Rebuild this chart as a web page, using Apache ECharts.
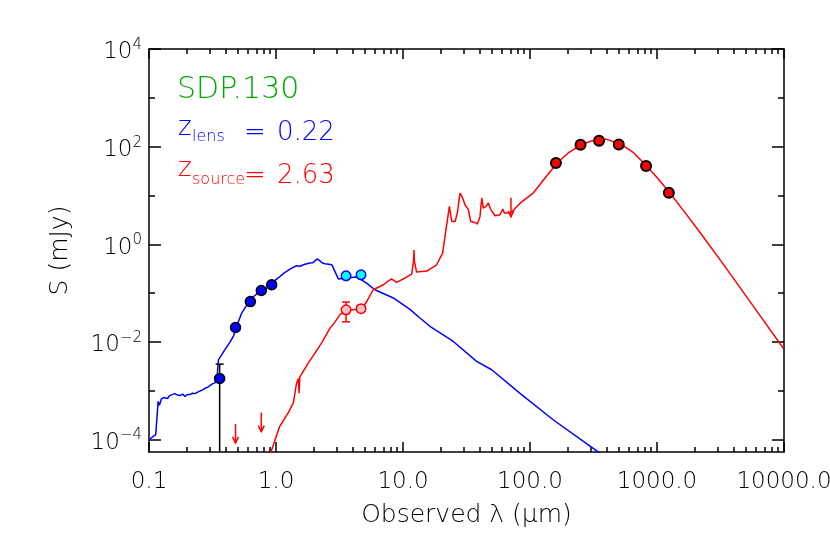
<!DOCTYPE html>
<html><head><meta charset="utf-8">
<script src="https://cdn.jsdelivr.net/npm/echarts@6/dist/echarts.min.js"></script>
<style>html,body{margin:0;padding:0;background:#fff}#c{width:830px;height:553px}</style>
</head><body><div id="c"></div>
<script>
const FONT = 'DejaVu Sans';
const FW = 200;

// ---- axis ticks ----
const xMajorTicks = [0.1, 1, 10, 100, 1000, 10000];
const xMinorTicks = [0.2,0.3,0.4,0.5,0.6,0.7,0.8,0.9, 2,3,4,5,6,7,8,9, 20,30,40,50,60,70,80,90,
  200,300,400,500,600,700,800,900, 2000,3000,4000,5000,6000,7000,8000,9000];
const yMajorTicks = [1e-4, 1e-2, 1, 1e2, 1e4];
const yMinorTicks = [1e-3, 1e-1, 10, 1e3];

// ---- lens galaxy SED model (blue) ----
const lensLambda = [0.100,0.113,0.118,0.121,0.125,0.130,0.134,0.140,0.145,0.152,0.160,0.168,0.175,0.184,0.192,
  0.200,0.210,0.220,0.230,0.242,0.255,0.266,0.276,0.288,0.300,0.315,0.331,0.340,0.345,0.352,0.370,0.396,0.430,
  0.461,0.500,0.537,0.590,0.644,0.720,0.819,0.920,1.04,1.17,1.33,1.45,1.55,1.64,1.75,1.85,1.95,2.00,2.11,2.20,
  2.30,2.43,2.60,2.75,2.90,3.10,3.49,4.32,5.17,6.00,8.40,11.4,13.6,16.3,24.9,38.0,49.9,83.0,153,351,500];
const lensFlux = [1.00e-4,1.26e-4,6.03e-4,5.01e-4,6.76e-4,7.24e-4,7.59e-4,6.92e-4,7.94e-4,8.32e-4,8.71e-4,8.13e-4,
  7.94e-4,8.51e-4,7.59e-4,8.32e-4,8.32e-4,8.91e-4,8.71e-4,9.33e-4,1.00e-3,1.05e-3,1.12e-3,1.17e-3,1.26e-3,1.38e-3,
  1.45e-3,1.58e-3,2.09e-3,4.27e-3,5.25e-3,6.92e-3,9.55e-3,1.29e-2,2.40e-2,3.89e-2,5.75e-2,7.94e-2,0.100,0.117,
  0.158,0.204,0.263,0.324,0.363,0.355,0.380,0.398,0.412,0.417,0.447,0.501,0.468,0.417,0.398,0.389,0.380,0.282,
  0.195,0.204,0.214,0.160,0.117,7.94e-2,4.57e-2,3.09e-2,2.09e-2,1.02e-2,3.98e-3,2.69e-3,8.91e-4,2.51e-4,5.37e-5,2.51e-5];

// ---- source SED model (red) ----
const srcLambda = [0.880,0.914,1.07,1.25,1.37,1.45,1.50,1.52,1.54,1.80,2.00,2.29,2.66,2.90,3.19,3.56,4.32,4.67,5.11,
  5.83,7.00,7.60,8.10,8.90,10.4,11.7,12.1,12.2,12.3,12.8,15.4,18.4,20.5,21.8,23.2,24.2,25.7,26.8,28.1,29.5,30.8,
  31.7,32.7,34.1,36.9,38.5,40.4,41.7,42.9,45.1,47.0,49.1,53.0,58.0,61.0,62.8,67.5,71.8,85.0,106,130,163,200,255,
  300,355,400,511,650,820,1000,1236,1585,2183,3162,4508,6310,10000];
const srcFlux = [3.55e-5,5.62e-5,1.86e-4,3.55e-4,5.62e-4,1.41e-3,1.78e-3,8.91e-4,1.91e-3,3.72e-3,5.62e-3,9.55e-3,
  1.91e-2,2.51e-2,3.63e-2,4.37e-2,4.68e-2,4.68e-2,6.31e-2,0.117,0.148,0.174,0.195,0.166,0.204,0.245,0.447,0.759,
  0.447,0.269,0.282,0.380,0.661,2.00,5.96,2.93,2.93,4.37,11.2,8.91,6.46,7.00,5.13,2.93,2.80,2.59,3.72,8.91,5.50,
  5.96,7.00,5.13,3.84,4.03,5.25,4.37,4.37,4.57,7.24,11.2,21.9,45.7,74.1,110,129,141,141,115,75.9,41.7,23.4,12.0,
  5.25,1.74,0.468,0.129,3.80e-2,7.08e-3];

// ---- photometry ----
const lensPtLambda = [0.36, 0.48, 0.628, 0.766, 0.925];
const lensPtFlux = [1.78e-3, 0.0197, 0.067, 0.113, 0.148];
const lensIracLambda = [3.56, 4.67];
const lensIracFlux = [0.226, 0.237];
const srcIracLambda = [3.56, 4.67];
const srcIracFlux = [0.0455, 0.0478];
const srcFirLambda = [160, 250, 350, 500, 820, 1240];
const srcFirFlux = [46, 109, 132, 111, 40, 11.4];

// error bars
const lensErrLambda = [0.36];
const lensErrLow = [1e-5];
const lensErrHigh = [3.5e-3];
const srcErrLambda = [3.56];
const srcErrLow = [0.0258];
const srcErrHigh = [0.0655];

// upper limits
const ulLambda = [0.48, 0.766, 70.8];
const ulFlux = [2.09e-4, 3.55e-4, 8.97];

const pairs = (a, b) => a.map((v, i) => [v, b[i]]);

function errorBarSeries(lams, lows, highs, color) {
  return {
    type: 'custom', xAxisIndex: 0, yAxisIndex: 0, z: 3, silent: true,
    data: lams.map((l, i) => [l, lows[i], highs[i]]),
    encode: { x: 0, y: [1, 2] },
    renderItem: function (params, api) {
      const cs = params.coordSys;
      const top = api.coord([api.value(0), api.value(2)]);
      const bot = api.coord([api.value(0), api.value(1)]);
      const yMin = cs.y, yMax = cs.y + cs.height;
      const x = top[0];
      const st = { stroke: color, lineWidth: 1.5 };
      const ch = [{ type: 'line', shape: { x1: x, y1: Math.max(top[1], yMin), x2: x, y2: Math.min(bot[1], yMax) }, style: st }];
      if (top[1] >= yMin) ch.push({ type: 'line', shape: { x1: x - 4, y1: top[1], x2: x + 4, y2: top[1] }, style: st });
      if (bot[1] <= yMax) ch.push({ type: 'line', shape: { x1: x - 4, y1: bot[1], x2: x + 4, y2: bot[1] }, style: st });
      return { type: 'group', children: ch };
    }
  };
}

function upperLimitSeries(lams, flux, color) {
  return {
    type: 'custom', xAxisIndex: 0, yAxisIndex: 0, z: 3, silent: true,
    data: pairs(lams, flux),
    encode: { x: 0, y: 1 },
    renderItem: function (params, api) {
      const p = api.coord([api.value(0), api.value(1)]);
      const L = 19;
      const st = { stroke: color, lineWidth: 1.5, fill: null };
      return { type: 'group', children: [
        { type: 'line', shape: { x1: p[0], y1: p[1], x2: p[0], y2: p[1] + L }, style: st },
        { type: 'polyline', shape: { points: [[p[0] - 3, p[1] + L - 6], [p[0], p[1] + L], [p[0] + 3, p[1] + L - 6]] }, style: st }
      ] };
    }
  };
}

const axisLineStyle = { color: '#000', width: 1.5 };

function xAxisDef(position, major) {
  return {
    type: 'log', logBase: 10, min: 0.1, max: 10000, position: position,
    axisLine: { show: major, lineStyle: axisLineStyle },
    axisTick: { show: true, inside: true, length: major ? 10 : 5,
      customValues: major ? xMajorTicks : xMinorTicks, lineStyle: axisLineStyle },
    axisLabel: (major && position === 'bottom') ? {
      show: true, customValues: xMajorTicks, margin: 19, color: '#000',
      fontFamily: FONT, fontSize: 23, fontWeight: FW,
      formatter: v => Number(v).toFixed(1)
    } : { show: false },
    splitLine: { show: false }, minorTick: { show: false }, minorSplitLine: { show: false },
    name: (major && position === 'bottom') ? 'Observed λ (µm)' : '',
    nameLocation: 'middle', nameGap: 51,
    nameTextStyle: { color: '#000', fontFamily: FONT, fontSize: 25, fontWeight: FW }
  };
}
function yAxisDef(position, major) {
  return {
    type: 'log', logBase: 10, min: 5.55e-5, max: 1e4, position: position,
    axisLine: { show: major, lineStyle: axisLineStyle },
    axisTick: { show: true, inside: true, length: major ? 12 : 6,
      customValues: major ? yMajorTicks : yMinorTicks, lineStyle: axisLineStyle },
    axisLabel: (major && position === 'left') ? {
      show: true, customValues: yMajorTicks, margin: 7, color: '#000',
      formatter: v => {
        const e = Math.round(Math.log10(v));
        return '{b|10}{s|' + (e < 0 ? '\u2212' + (-e) : e) + '}';
      },
      rich: {
        b: { fontFamily: FONT, fontSize: 23, fontWeight: FW, color: '#000', lineHeight: 23, padding: [7, 0, 0, 0] },
        s: { fontFamily: FONT, fontSize: 15, fontWeight: FW, color: '#000', lineHeight: 23, verticalAlign: 'top' }
      }
    } : { show: false },
    splitLine: { show: false }, minorTick: { show: false }, minorSplitLine: { show: false },
    name: (major && position === 'left') ? 'S (mJy)' : '',
    nameLocation: 'middle', nameGap: 76,
    nameTextStyle: { color: '#000', fontFamily: FONT, fontSize: 25, fontWeight: FW }
  };
}

function label(text, x, y, size, color) {
  return { type: 'text', x: x, y: y, style: { text: text, fill: color, fontFamily: FONT, fontSize: size,
    fontWeight: FW, align: 'left', verticalAlign: 'middle' } };
}

const chart = echarts.init(document.getElementById('c'), null, { renderer: 'canvas' });
chart.setOption({
  animation: false,
  backgroundColor: '#fff',
  grid: { left: 149, top: 49, width: 635, height: 403, containLabel: false, outerBoundsMode: 'none' },
  xAxis: [xAxisDef('bottom', true), xAxisDef('bottom', false), xAxisDef('top', true), xAxisDef('top', false)],
  yAxis: [yAxisDef('left', true), yAxisDef('left', false), yAxisDef('right', true), yAxisDef('right', false)],
  series: [
    { type: 'line', data: pairs(lensLambda, lensFlux), showSymbol: false, symbol: 'none', clip: true, z: 2,
      lineStyle: { color: '#0000FF', width: 1.5 }, silent: true },
    { type: 'line', data: pairs(srcLambda, srcFlux), showSymbol: false, symbol: 'none', clip: true, z: 2,
      lineStyle: { color: '#FF0000', width: 1.5 }, silent: true },
    errorBarSeries(lensErrLambda, lensErrLow, lensErrHigh, '#000000'),
    errorBarSeries(srcErrLambda, srcErrLow, srcErrHigh, '#FF0000'),
    upperLimitSeries(ulLambda, ulFlux, '#FF0000'),
    { type: 'scatter', data: pairs(lensPtLambda, lensPtFlux), symbol: 'circle', symbolSize: 10, z: 4,
      itemStyle: { color: '#0000FF', borderColor: '#000', borderWidth: 1.5, opacity: 1 } },
    { type: 'scatter', data: pairs(lensIracLambda, lensIracFlux), symbol: 'circle', symbolSize: 9.5, z: 4,
      itemStyle: { color: '#00FFFF', borderColor: '#0000FF', borderWidth: 1.5, opacity: 1 } },
    { type: 'scatter', data: pairs(srcIracLambda, srcIracFlux), symbol: 'circle', symbolSize: 9.5, z: 4,
      itemStyle: { color: '#FFC0CB', borderColor: '#FF0000', borderWidth: 1.5, opacity: 1 } },
    { type: 'scatter', data: pairs(srcFirLambda, srcFirFlux), symbol: 'circle', symbolSize: 10, z: 4,
      itemStyle: { color: '#FF0000', borderColor: '#000', borderWidth: 2, opacity: 1 } }
  ],
  graphic: [
    label('SDP.130', 177, 90, 30, '#00AA00'),
    label('z', 178, 128, 26, '#0000FF'),
    label('lens', 192, 137, 16, '#0000FF'),
    label('=', 244, 133.5, 26, '#0000FF'),
    label('0.22', 277, 133.5, 26, '#0000FF'),
    label('z', 178, 169.5, 26, '#FF0000'),
    label('source', 192, 179.5, 16, '#FF0000'),
    label('=', 244, 176, 26, '#FF0000'),
    label('2.63', 277, 176, 26, '#FF0000')
  ]
});
</script></body></html>
